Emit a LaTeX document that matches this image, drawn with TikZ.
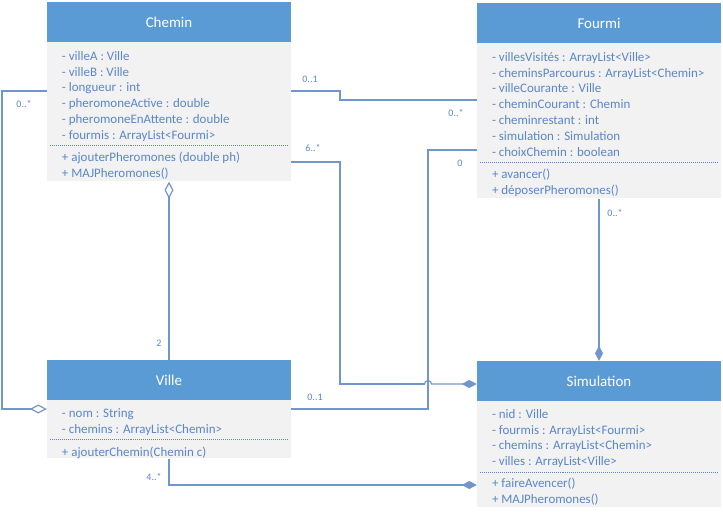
\documentclass[tikz,border=0pt]{standalone}
\usepackage{fontspec}
\setmainfont{Carlito}
\usetikzlibrary{arrows.meta}
\definecolor{umlhead}{HTML}{5B9BD5}
\definecolor{umlbody}{HTML}{F2F2F2}
\definecolor{umltext}{HTML}{5A86CA}
\definecolor{umlline}{HTML}{7096CC}
\begin{document}
\begin{tikzpicture}[
    x=1bp,
    y=-1bp,
    head/.style={
      rectangle,
      fill=umlhead,
      text=white,
      font=\fontsize{15}{18}\selectfont,
      minimum width=244bp,
      minimum height=40bp,
      inner sep=0pt
    },
    body/.style={
      rectangle,
      fill=umlbody,
      minimum width=244bp,
      anchor=north,
      inner sep=0pt
    },
    members/.style={
      anchor=north west,
      align=left,
      text=umltext,
      font=\fontsize{13}{15.85}\selectfont,
      inner sep=0pt,
      execute at begin node=\strut,
      execute at end node=\strut
    },
    sep/.style={umltext, line width=0.6pt, dash pattern=on 1pt off 1pt},
    link/.style={umlline, line width=1.2bp},
    agg/.style={link, -{Diamond[open, length=17bp, width=9bp]}},
    comp/.style={link, -{Diamond[length=15bp, width=8bp]}},
    mult/.style={text=umltext, font=\fontsize{10}{12}\selectfont, inner sep=0pt}
]

\useasboundingbox (0,0) rectangle (723,512);

\node[head] (ch) at (169,22) {Chemin};
\node[body, minimum height=139bp] (chb) at (ch.south) {};
\node[members] (cha) at ([shift={(15bp,-9bp)}]ch.south west) {- villeA : Ville\\- villeB : Ville\\- longueur : int\\- pheromoneActive : double\\- pheromoneEnAttente : double\\- fourmis : ArrayList<Fourmi>};
\draw[sep] ([shift={(3bp,-1.5bp)}]chb.west |- cha.south) -- ([shift={(-3bp,-1.5bp)}]chb.east |- cha.south);
\node[members] (chm) at ([yshift=-8bp]cha.south west) {+ ajouterPheromones (double ph)\\+ MAJPheromones()};

\node[head] (fo) at (599,23) {Fourmi};
\node[body, minimum height=155bp] (fob) at (fo.south) {};
\node[members] (foa) at ([shift={(15bp,-9bp)}]fo.south west) {- villesVisités : ArrayList<Ville>\\- cheminsParcourus : ArrayList<Chemin>\\- villeCourante : Ville\\- cheminCourant : Chemin\\- cheminrestant : int\\- simulation : Simulation\\- choixChemin : boolean};
\draw[sep] ([shift={(3bp,-1.5bp)}]fob.west |- foa.south) -- ([shift={(-3bp,-1.5bp)}]fob.east |- foa.south);
\node[members] (fom) at ([yshift=-8bp]foa.south west) {+ avancer()\\+ déposerPheromones()};

\node[head] (vi) at (169,380) {Ville};
\node[body, minimum height=58bp] (vib) at (vi.south) {};
\node[members] (via) at ([shift={(15bp,-8bp)}]vi.south west) {- nom : String\\- chemins : ArrayList<Chemin>};
\draw[sep] ([shift={(3bp,-1.5bp)}]vib.west |- via.south) -- ([shift={(-3bp,-1.5bp)}]vib.east |- via.south);
\node[members] (vim) at ([yshift=-7bp]via.south west) {+ ajouterChemin(Chemin c)};

\node[head] (si) at (599,381) {Simulation};
\node[body, minimum height=106bp] (sib) at (si.south) {};
\node[members] (sia) at ([shift={(15bp,-8bp)}]si.south west) {- nid : Ville\\- fourmis : ArrayList<Fourmi>\\- chemins : ArrayList<Chemin>\\- villes : ArrayList<Ville>};
\draw[sep] ([shift={(3bp,-1.5bp)}]sib.west |- sia.south) -- ([shift={(-3bp,-1.5bp)}]sib.east |- sia.south);
\node[members] (sim) at ([yshift=-7.5bp]sia.south west) {+ faireAvencer()\\+ MAJPheromones()};

\coordinate (hop) at (428,384);

\draw[link] (chb.east |- 0,91) -- (340,91) |- (fob.west |- 0,100);
\draw[link] (chb.east |- 0,162) -- (340,162) |- ([xshift=-3.5bp]hop);
\draw[comp] ([xshift=-3.5bp]hop) arc[start angle=180, end angle=0, radius=3.5bp] -- (si.west |- hop);
\draw[link] (vib.east |- 0,409) -- (428,409) |- (fob.west |- 0,150);
\draw[agg] (vi.north) -- (chb.south);
\draw[agg] (chb.west |- 0,91) -- (2,91) |- (vib.west |- 0,409);
\draw[comp] (fob.south) -- (si.north);
\draw[comp] (vib.south) |- (sib.west |- 0,485);

\node[mult] (m1) at (310,79) {0..1};
\node[mult] (m2) at (456,113) {0..*};
\node[mult] (m3) at (313,148) {6..*};
\node[mult] (m4) at (24,104) {0..*};
\node[mult] (m5) at (159,343) {2};
\node[mult] (m6) at (315,397) {0..1};
\node[mult] (m7) at (460,163) {0};
\node[mult] (m8) at (615,213) {0..*};
\node[mult] (m9) at (154,477) {4..*};

\end{tikzpicture}
\end{document}
